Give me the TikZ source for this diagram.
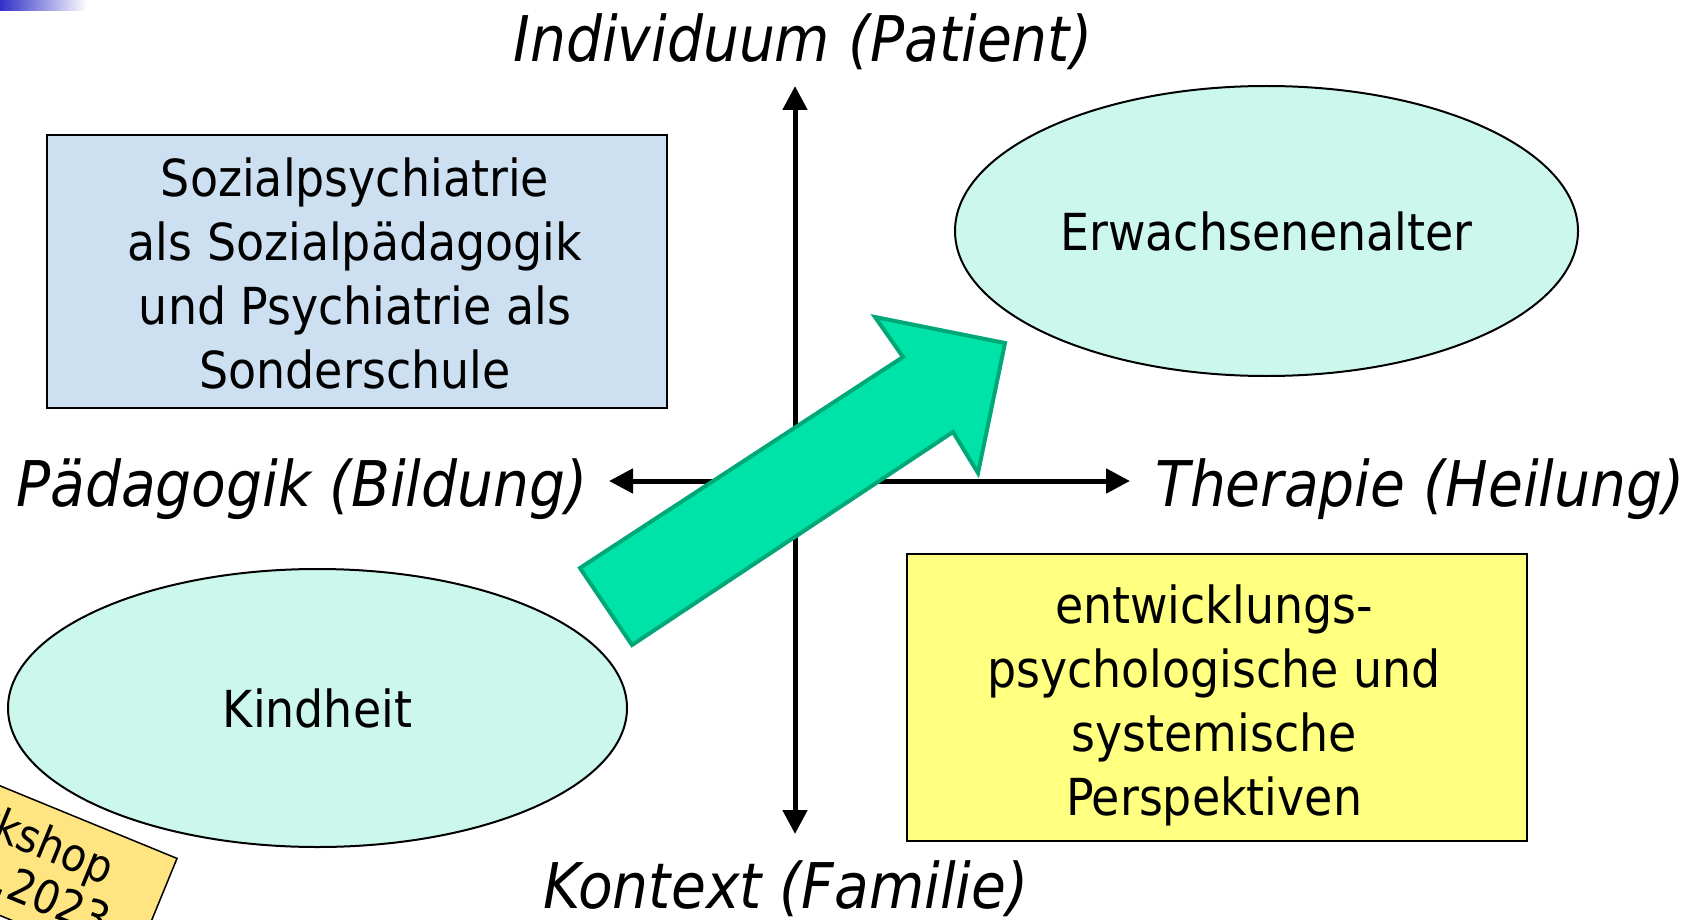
\documentclass[tikz,border=0pt]{standalone}
\usepackage{fontspec}
\setmainfont{DejaVu Sans Condensed}[ItalicFont={DejaVu Sans Condensed Oblique}]
\usetikzlibrary{arrows.meta,shapes.geometric}
\definecolor{boxblue}{RGB}{204,224,242}
\definecolor{ellmint}{RGB}{204,247,236}
\definecolor{boxyellow}{RGB}{255,255,128}
\definecolor{notegold}{RGB}{255,228,130}
\definecolor{arrowfill}{RGB}{0,227,168}
\definecolor{arrowline}{RGB}{0,168,120}
\definecolor{barblue}{RGB}{48,48,200}

\begin{document}
\begin{tikzpicture}[x=1pt,y=-1pt,
  axisline/.style={line width=5pt,-{Triangle[length=24pt,width=24pt]}},
  axislabel/.style={font=\fontsize{63}{70}\selectfont\itshape,inner sep=0pt},
  textbox/.style={draw,line width=2pt,inner sep=0pt},
  boxtext/.style={align=center,inner sep=0pt,font=\fontsize{51}{64}\selectfont},
  oval/.style={ellipse,draw,line width=2pt,fill=ellmint,inner sep=0pt,
    font=\fontsize{51}{64}\selectfont},
  blockarrow/.style={fill=arrowfill,draw=arrowline,line width=4pt,line join=miter}]
  \useasboundingbox (0,0) rectangle (1699,920);
  \clip (0,0) rectangle (1699,920);
  % title bar
  \shade[left color=barblue,right color=white] (0,0) rectangle (87,11);
  % axes
  \coordinate (vtop) at (795,86);
  \coordinate (vbot) at (795,834);
  \coordinate (hleft) at (609,481);
  \coordinate (hright) at (1130,481);
  \coordinate (mid) at (795,481);
  \draw[axisline] (mid) -- (vtop);
  \draw[axisline] (mid) -- (vbot);
  \draw[axisline] (mid) -- (hleft);
  \draw[axisline] (mid) -- (hright);
  % axis labels
  \node[axislabel] (indiv) at (803,42) {Individuum (Patient)};
  \node[axislabel] (paed) at (302,489) {Pädagogik (Bildung)};
  \node[axislabel] (ther) at (1420,489) {Therapie (Heilung)};
  \node[axislabel] (kontext) at (786,889) {Kontext (Familie)};
  % quadrant boxes
  \node[textbox,fill=boxblue,minimum width=620pt,minimum height=273pt] (sozbox) at (357,271.5) {};
  \node[boxtext] (soztext) at (355,273.5)
    {Sozialpsychiatrie\\als Sozialpädagogik\\und Psychiatrie als\\Sonderschule};
  \node[textbox,fill=boxyellow,minimum width=620pt,minimum height=287pt] (entwbox) at (1217,697.5) {};
  \node[boxtext] (entwtext) at (1214,705)
    {entwicklungs-\\psychologische und\\systemische\\Perspektiven};
  % age stages
  \node[oval,minimum width=623pt,minimum height=290pt] (erw) at (1266.5,231) {Erwachsenenalter};
  \node[oval,minimum width=619pt,minimum height=278pt] (kind) at (317.5,708) {Kindheit};
  % workshop note, cut by the frame
  \node[fill=notegold,draw,line width=1.5pt,rotate=-22.3,anchor=north east,
    minimum width=316pt,minimum height=120pt,align=center,
    font=\fontsize{46}{50}\selectfont] (note) at (178,858) {Workshop\\14.04.2023};
  % development arrow
  \coordinate (tailA) at (580,568);
  \coordinate (tailB) at (632,645);
  \coordinate (neckA) at (903,357);
  \coordinate (neckB) at (953,432);
  \coordinate (barbA) at (875,317);
  \coordinate (barbB) at (978,473);
  \coordinate (tip) at (1005,343);
  \draw[blockarrow] (tailA) -- (neckA) -- (barbA) -- (tip) -- (barbB) -- (neckB) -- (tailB) -- cycle;
\end{tikzpicture}
\end{document}
